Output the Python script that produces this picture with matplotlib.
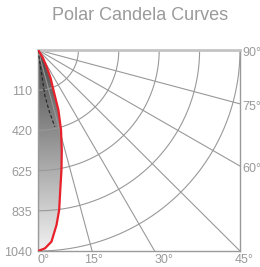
import numpy as np
import matplotlib
matplotlib.use('Agg')
import matplotlib.pyplot as plt
from matplotlib.colors import LinearSegmentedColormap
from matplotlib.patches import Polygon

plt.rcParams['font.family'] = ['Liberation Sans', 'DejaVu Sans']

# candela curve (angle from nadir in degrees, intensity in cd)
angles_deg = [0, 2, 4, 6, 7.5, 9, 11, 13.3, 16, 18.7, 21, 24, 27, 32, 38, 45]
candela = [1040, 1027, 994, 911, 835, 733, 633, 532, 430, 328, 222, 160, 100, 45, 10, 0]

# second (dashed) curve, only the part that is visible near the origin
dashed_angles = [8.8, 8.5, 10.3, 12.3]
dashed_candela = [0, 236, 320, 406]

ring_values = [208, 416, 624, 832, 1040]
ring_labels = ['110', '420', '625', '835', '1040']
ray_angles = [0, 15, 30, 45, 60, 75, 90]
rmax = 1040

grid_col = '#999999'
text_col = '#9a9a9a'


def to_xy(ang, r):
    t = np.radians(np.asarray(ang, dtype=float))
    r = np.asarray(r, dtype=float)
    return r * np.sin(t), r * np.cos(t)


fig = plt.figure(figsize=(2.6, 2.67), dpi=100)
ax = fig.add_axes([38 / 260, 16 / 267, 202 / 260, 201 / 267])
ax.set_xticks([])
ax.set_yticks([])

# gradient fill under the curve
cx, cy = to_xy(angles_deg, candela)
poly = Polygon(np.column_stack([cx, cy]), closed=True, facecolor='none', edgecolor='none')
ax.add_patch(poly)
cmap = LinearSegmentedColormap.from_list('fill', ['#474747', '#f2f2f2'])
img = ax.imshow(np.linspace(0, 1, 256).reshape(-1, 1), extent=(0, rmax, rmax, 0),
                cmap=cmap, aspect='auto', origin='upper', zorder=1)
img.set_clip_path(poly)
ax.set_xlim(0, rmax)
ax.set_ylim(rmax, 0)

# rings
t = np.linspace(0, np.pi / 2, 200)
for rv in ring_values:
    ax.plot(rv * np.sin(t), rv * np.cos(t), color=grid_col, lw=0.8, zorder=2)

# rays
for a in ray_angles:
    rx, ry = to_xy([a, a], [0, 3 * rmax])
    ax.plot(rx, ry, color=grid_col, lw=0.8, zorder=2)

# curves
dx, dy = to_xy(dashed_angles, dashed_candela)
ax.plot(dx, dy, color='#222222', lw=0.8, ls=(0, (3, 2)), zorder=3)
ax.plot(cx, cy, color='#e8202a', lw=1.6, zorder=4, solid_capstyle='round')

for side in ['left', 'bottom', 'right']:
    ax.spines[side].set_color('#9a9a9a')
    ax.spines[side].set_linewidth(1.0)
ax.spines['top'].set_color('#c4c4c4')
ax.spines['top'].set_linewidth(2.0)

# ring labels on the left
for rv, lab in zip(ring_values, ring_labels):
    ax.annotate(lab, xy=(0, rv), xytext=(-4, -1.5), textcoords='offset points',
                ha='right', va='center', fontsize=9, color=text_col, annotation_clip=False)

# angle labels along the bottom
bottom_ha = ['left', 'center', 'left', 'center']
bottom_dx = [0, 1, 0, 3]
for a, ha, ddx in zip([0, 15, 30, 45], bottom_ha, bottom_dx):
    x = rmax * np.tan(np.radians(a))
    ax.annotate(f'{a}°', xy=(x, rmax), xytext=(ddx, -2.5), textcoords='offset points',
                ha=ha, va='top', fontsize=9, color=text_col, annotation_clip=False)

# angle labels along the right edge
for a in [60, 75, 90]:
    y = rmax * np.tan(np.radians(90 - a))
    ax.annotate(f'{a}°', xy=(rmax, y), xytext=(2, -2), textcoords='offset points',
                ha='left', va='center', fontsize=9, color=text_col, annotation_clip=False)

fig.text(140 / 260, 1 - 15 / 267, 'Polar Candela Curves', ha='center', va='center',
         fontsize=13, color=text_col)

fig.savefig('out.png', dpi=100)
